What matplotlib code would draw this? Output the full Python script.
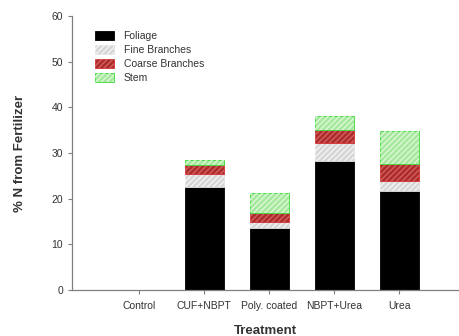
import numpy as np
import matplotlib.pyplot as plt
from matplotlib.patches import Patch

plt.rcParams['font.family'] = ['Liberation Sans', 'DejaVu Sans']
plt.rcParams['hatch.linewidth'] = 1.0

treatments = ['Control', 'CUF+NBPT', 'Poly. coated', 'NBPT+Urea', 'Urea']
foliage = [0, 22.5, 13.5, 28.3, 21.7]
fine = [0, 2.8, 1.5, 3.8, 2.2]
coarse = [0, 2.0, 1.8, 2.9, 3.8]
stem = [0, 1.2, 4.5, 3.1, 7.2]

parts = ['Foliage', 'Fine Branches', 'Coarse Branches', 'Stem']
faces = ['#000000', '#d6d6d6', '#b02a2a', '#a6e89e']
edges = ['#000000', '#e4e4e4', '#d83030', '#3cdc3c']
hatch_cols = [None, '#f4f4f4', '#cc6262', '#dcf8d6']

fig = plt.figure(figsize=(4.59, 3.36), dpi=100)
ax = fig.add_axes([72/459, 46/336, 1 - 72/459, 274/336])

x = np.arange(1, 6)
bottom = np.zeros(5)
handles = []
for vals, name, fc, ec, hc in zip([foliage, fine, coarse, stem], parts, faces, edges, hatch_cols):
    vals = np.array(vals)
    ax.bar(x, vals, 0.6, bottom=bottom, color=fc, edgecolor=ec, linewidth=0.6)
    if hc is not None:
        ax.bar(x, vals, 0.6, bottom=bottom, fill=False, edgecolor=hc, hatch='//////', linewidth=0)
        h = (Patch(facecolor=fc, edgecolor=ec, linewidth=0.6),
             Patch(fill=False, edgecolor=hc, hatch='//////', linewidth=0))
    else:
        h = Patch(facecolor=fc, edgecolor=ec, linewidth=0.6)
    handles.append(h)
    bottom += vals

ax.set_xlim(-0.03, 5.92)
ax.set_ylim(0, 60)
ax.set_yticks(range(0, 61, 10))
ax.set_xticks(x)
ax.set_xticklabels(treatments)
ax.spines['top'].set_visible(False)
ax.spines['right'].set_visible(False)
for s in ['left', 'bottom']:
    ax.spines[s].set_color('#808080')
    ax.spines[s].set_linewidth(0.9)
ax.tick_params(direction='out', length=3, color='#808080', labelsize=7.5, labelcolor='#333333')
ax.tick_params(axis='x', pad=5)

ax.set_ylabel('% N from Fertilizer', fontsize=9.5, fontweight='bold', color='#333333', labelpad=18)
ax.set_xlabel('Treatment', fontsize=9.5, fontweight='bold', color='#333333', labelpad=10)

ax.legend(handles, parts, loc='upper left', bbox_to_anchor=(86/459, 1 - 22/336),
          bbox_transform=fig.transFigure, frameon=False, fontsize=7.5,
          handlelength=1.8, handleheight=0.9, handletextpad=0.9, labelspacing=0.38,
          labelcolor='#333333')

fig.savefig('out.png', dpi=100)
